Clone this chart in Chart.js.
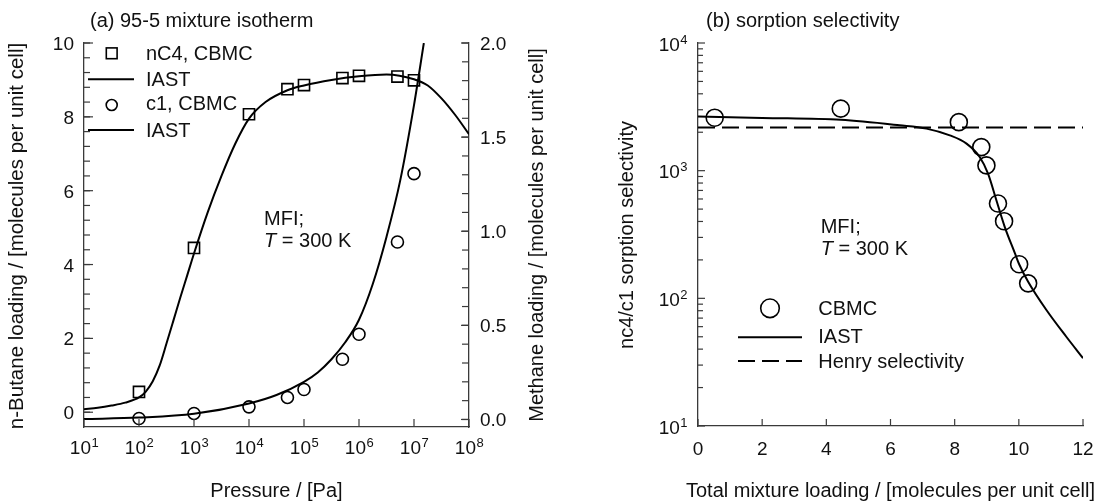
<!DOCTYPE html>
<html>
<head>
<meta charset="utf-8">
<script src="https://cdn.jsdelivr.net/npm/chart.js@4.4.0/dist/chart.umd.min.js"></script>
<style>
  html, body { margin: 0; padding: 0; background: #fff; }
  #wrap { position: relative; width: 1102px; height: 502px; overflow: hidden; }
  #chartA { position: absolute; left: 0; top: 0; }
  #chartB { position: absolute; left: 560px; top: 0; }
</style>
</head>
<body>
<div id="wrap">
  <canvas id="chartA" width="560" height="502"></canvas>
  <canvas id="chartB" width="542" height="502"></canvas>
</div>
<script>
// ---- panel (a): 95-5 mixture isotherm ----
const pressurePa = [1e2, 1e3, 1e4, 5e4, 1e5, 5e5, 1e6, 5e6, 1e7];
const nC4Cbmc = [0.55, 4.45, 8.07, 8.75, 8.86, 9.05, 9.11, 9.09, 8.99];
const c1Cbmc = [0.005, 0.032, 0.067, 0.117, 0.159, 0.32, 0.453, 0.943, 1.306];

const nC4IastP = [1e1, 1.78e1, 3.16e1, 5.62e1, 1e2, 1.33e2, 1.78e2, 2.37e2, 3.16e2, 4.22e2, 5.62e2, 7.5e2, 1e3,
    1.78e3, 3.16e3, 5.62e3, 1e4, 2e4, 5e4, 1e5, 3.16e5, 1e6, 3.16e6, 1e7, 1.78e7, 3.16e7, 5.62e7, 1e8];
const nC4IastQ = [0.08, 0.12, 0.18, 0.26, 0.40, 0.56, 0.84, 1.26, 1.86, 2.48, 3.1, 3.7, 4.3,
    5.42, 6.4, 7.27, 7.95, 8.4, 8.72, 8.85, 9.0, 9.1, 9.15, 9.02, 8.85, 8.5, 8.05, 7.53];
const c1IastP = [1e1, 1e2, 1e3, 1e4, 3.16e4, 1e5, 1.78e5, 3.16e5, 5.62e5, 1e6, 1.78e6, 3.16e6, 5.62e6, 1e7, 1.51e7];
const c1IastQ = [0.002, 0.01, 0.03, 0.085, 0.13, 0.2, 0.25, 0.32, 0.41, 0.53, 0.72, 0.97, 1.27, 1.67, 2.0];

const pressureTicks = [1e1, 1e2, 1e3, 1e4, 1e5, 1e6, 1e7, 1e8];
const pressureExp = ['1', '2', '3', '4', '5', '6', '7', '8'];
const nC4Ticks = [0, 2, 4, 6, 8, 10];
const c1Ticks = [0, 0.5, 1.0, 1.5, 2.0];

// ---- panel (b): sorption selectivity ----
const totalLoading = [0.52, 4.45, 8.13, 8.83, 8.99, 9.35, 9.54, 10.01, 10.29];
const selCbmc = [2600, 3060, 2400, 1530, 1100, 553, 402, 185, 131];
const iastLoading = [0, 2, 4.45, 6.28, 7.12, 7.85, 8.37, 8.78, 9.04, 9.30, 9.56, 9.87, 10.01, 10.29, 10.86, 11.48, 12];
const selIast = [2660, 2590, 2500, 2265, 2135, 1890, 1630, 1280, 949, 587, 363, 228, 185, 135, 81, 50, 34];
const henryLoading = [0, 12];
const henrySel = [2180, 2180];

const loadingTicks = [0, 2, 4, 6, 8, 10, 12];
const selTicks = [1e1, 1e2, 1e3, 1e4];
const selExp = ['1', '2', '3', '4'];

const FONT = '"Liberation Sans", Arial, Helvetica, sans-serif';
const INK = '#111';
const AXIS = '#3a3a3a';

const pts = (xs, ys) => xs.map((v, i) => ({ x: v, y: ys[i] }));

function seg(ctx, x1, y1, x2, y2) {
    ctx.beginPath(); ctx.moveTo(x1, y1); ctx.lineTo(x2, y2); ctx.stroke();
}

function label(ctx, s, x, y, size, align, style) {
    ctx.font = (style ? style + ' ' : '') + size + 'px ' + FONT;
    ctx.textAlign = align || 'left';
    ctx.textBaseline = 'alphabetic';
    ctx.fillText(s, x, y);
}

// "10" with a raised exponent
function powLabel(ctx, exp, x, y, align) {
    ctx.font = '19px ' + FONT;
    const wb = ctx.measureText('10').width;
    ctx.font = '13px ' + FONT;
    const we = ctx.measureText(exp).width;
    const x0 = align === 'center' ? x - (wb + we) / 2 : x - wb - we;
    label(ctx, '10', x0, y, 19, 'left');
    label(ctx, exp, x0 + wb + 0.5, y - 7, 13, 'left');
}

function vlabel(ctx, s, x, y, size) {
    ctx.save();
    ctx.translate(x, y);
    ctx.rotate(-Math.PI / 2);
    label(ctx, s, 0, 0, size || 20, 'center');
    ctx.restore();
}

function tempLabel(ctx, x, y) {
    label(ctx, 'T', x, y, 20, 'left', 'italic');
    const w = ctx.measureText('T').width;
    label(ctx, ' = 300 K', x + w, y, 20, 'left');
}

const baseScale = {
    grid: { display: false },
    border: { display: true, color: AXIS, width: 1.3 },
    ticks: { display: false }
};

// ═══════════ panel (a) ═══════════
const decorA = {
    id: 'decorA',
    afterDraw(chart) {
        const { ctx, chartArea: a, scales: { x, yL, yR } } = chart;
        ctx.save();
        ctx.strokeStyle = AXIS; ctx.lineWidth = 1.2; ctx.fillStyle = INK;

        pressureTicks.forEach((v, i) => {
            const px = x.getPixelForValue(v);
            seg(ctx, px, a.bottom, px, a.bottom - 8);
            powLabel(ctx, pressureExp[i], px, 454, 'center');
        });
        for (let i = 0; i <= 25; i++) {
            const py = yL.getPixelForValue(i * 0.4);
            seg(ctx, a.left, py, a.left + 6, py);
        }
        nC4Ticks.forEach(v => {
            const py = yL.getPixelForValue(v);
            seg(ctx, a.left, py, a.left + 9, py);
            label(ctx, String(v), a.left - 10, py + 7, 19, 'right');
        });
        for (let i = 0; i <= 20; i++) {
            const py = yR.getPixelForValue(i * 0.1);
            seg(ctx, a.right, py, a.right - 7, py);
        }
        c1Ticks.forEach(v => {
            const py = yR.getPixelForValue(v);
            seg(ctx, a.right, py, a.right - 8, py);
            label(ctx, v.toFixed(1), a.right + 11, py + 7, 19, 'left');
        });

        label(ctx, '(a) 95-5 mixture isotherm', 90, 27, 20, 'left');
        label(ctx, 'Pressure / [Pa]', (a.left + a.right) / 2, 497, 20, 'center');
        vlabel(ctx, 'n-Butane loading / [molecules per unit cell]', 23, 236, 20.5);
        vlabel(ctx, 'Methane loading / [molecules per unit cell]', 543, 235);

        label(ctx, 'MFI;', 264, 225, 20, 'left');
        tempLabel(ctx, 264, 247);

        // legend
        ctx.strokeStyle = '#000'; ctx.lineWidth = 1.6;
        ctx.strokeRect(111.7 - 5.4, 53.3 - 5.4, 10.8, 10.8);
        ctx.beginPath(); ctx.arc(111.7, 105, 5.5, 0, Math.PI * 2); ctx.stroke();
        ctx.lineWidth = 2;
        seg(ctx, 88, 79.3, 134, 79.3);
        seg(ctx, 88, 130, 134, 130);
        label(ctx, 'nC4, CBMC', 146, 60, 20, 'left');
        label(ctx, 'IAST', 146, 86, 20, 'left');
        label(ctx, 'c1, CBMC', 146, 110, 20, 'left');
        label(ctx, 'IAST', 146, 136.5, 20, 'left');
        ctx.restore();
    }
};

new Chart(document.getElementById('chartA'), {
    type: 'scatter',
    data: {
        datasets: [
            {
                label: 'nC4, CBMC', data: pts(pressurePa, nC4Cbmc), yAxisID: 'yL',
                pointStyle: 'rect', pointRadius: 7.85, pointBorderWidth: 1.6,
                pointBorderColor: '#000', pointBackgroundColor: 'rgba(0,0,0,0)'
            },
            {
                label: 'IAST', data: pts(nC4IastP, nC4IastQ), yAxisID: 'yL', showLine: true,
                pointRadius: 0, borderColor: '#000', borderWidth: 2, cubicInterpolationMode: 'monotone'
            },
            {
                label: 'c1, CBMC', data: pts(pressurePa, c1Cbmc), yAxisID: 'yR',
                pointStyle: 'circle', pointRadius: 6, pointBorderWidth: 1.6,
                pointBorderColor: '#000', pointBackgroundColor: 'rgba(0,0,0,0)'
            },
            {
                label: 'IAST', data: pts(c1IastP, c1IastQ), yAxisID: 'yR', showLine: true,
                pointRadius: 0, borderColor: '#000', borderWidth: 2, cubicInterpolationMode: 'monotone'
            }
        ]
    },
    options: {
        responsive: false, animation: false, events: [],
        layout: { padding: { top: 43, left: 0, right: 0, bottom: 0 } },
        plugins: { legend: { display: false }, tooltip: { enabled: false } },
        scales: {
            x: { ...baseScale, type: 'logarithmic', min: 1e1, max: 1e8, afterFit(s) { s.height = 75; } },
            yL: { ...baseScale, position: 'left', min: -0.4, max: 10, afterFit(s) { s.width = 84; } },
            yR: { ...baseScale, position: 'right', min: -0.04, max: 2.0, afterFit(s) { s.width = 91; } }
        }
    },
    plugins: [decorA]
});

// ═══════════ panel (b) ═══════════
const decorB = {
    id: 'decorB',
    afterDraw(chart) {
        const { ctx, chartArea: a, scales: { x, y } } = chart;
        ctx.save();
        ctx.strokeStyle = AXIS; ctx.lineWidth = 1.2; ctx.fillStyle = INK;

        loadingTicks.forEach(v => {
            const px = x.getPixelForValue(v);
            seg(ctx, px, a.bottom, px, a.bottom - 7);
            label(ctx, String(v), px, 455, 19, 'center');
        });
        selTicks.forEach((v, i) => {
            const py = y.getPixelForValue(v);
            seg(ctx, a.left, py, a.left + 7, py);
            powLabel(ctx, selExp[i], a.left - 11, py + 7.5, 'right');
            if (i < selTicks.length - 1) {
                for (let m = 2; m <= 9; m++) {
                    const pm = y.getPixelForValue(v * m);
                    seg(ctx, a.left, pm, a.left + 5, pm);
                }
            }
        });

        label(ctx, '(b) sorption selectivity', 146, 27, 20, 'left');
        label(ctx, 'Total mixture loading / [molecules per unit cell]', (a.left + a.right) / 2, 497, 20, 'center');
        vlabel(ctx, 'nc4/c1 sorption selectivity', 73, 235);

        label(ctx, 'MFI;', 260.7, 233.3, 20, 'left');
        tempLabel(ctx, 260.7, 254.5);

        // legend
        ctx.strokeStyle = '#000'; ctx.lineWidth = 1.6;
        ctx.beginPath(); ctx.arc(210, 308.3, 9.3, 0, Math.PI * 2); ctx.stroke();
        ctx.lineWidth = 2;
        seg(ctx, 178, 337.3, 242, 337.3);
        ctx.setLineDash([17, 7]);
        seg(ctx, 178, 361, 242, 361);
        ctx.setLineDash([]);
        label(ctx, 'CBMC', 258.3, 315, 20, 'left');
        label(ctx, 'IAST', 258.3, 343.3, 20, 'left');
        label(ctx, 'Henry selectivity', 258.3, 368.3, 20, 'left');
        ctx.restore();
    }
};

new Chart(document.getElementById('chartB'), {
    type: 'scatter',
    data: {
        datasets: [
            {
                label: 'CBMC', data: pts(totalLoading, selCbmc),
                pointStyle: 'circle', pointRadius: 8.5, pointBorderWidth: 1.6,
                pointBorderColor: '#000', pointBackgroundColor: 'rgba(0,0,0,0)'
            },
            {
                label: 'IAST', data: pts(iastLoading, selIast), showLine: true,
                pointRadius: 0, borderColor: '#000', borderWidth: 2, cubicInterpolationMode: 'monotone'
            },
            {
                label: 'Henry selectivity', data: pts(henryLoading, henrySel), showLine: true,
                pointRadius: 0, borderColor: '#000', borderWidth: 2, borderDash: [17, 7]
            }
        ]
    },
    options: {
        responsive: false, animation: false, events: [],
        layout: { padding: { top: 43, left: 0, right: 19, bottom: 0 } },
        plugins: { legend: { display: false }, tooltip: { enabled: false } },
        scales: {
            x: { ...baseScale, type: 'linear', min: 0, max: 12, afterFit(s) { s.height = 76; } },
            y: { ...baseScale, type: 'logarithmic', position: 'left', min: 1e1, max: 1e4, afterFit(s) { s.width = 138; } }
        }
    },
    plugins: [decorB]
});
</script>
</body>
</html>
